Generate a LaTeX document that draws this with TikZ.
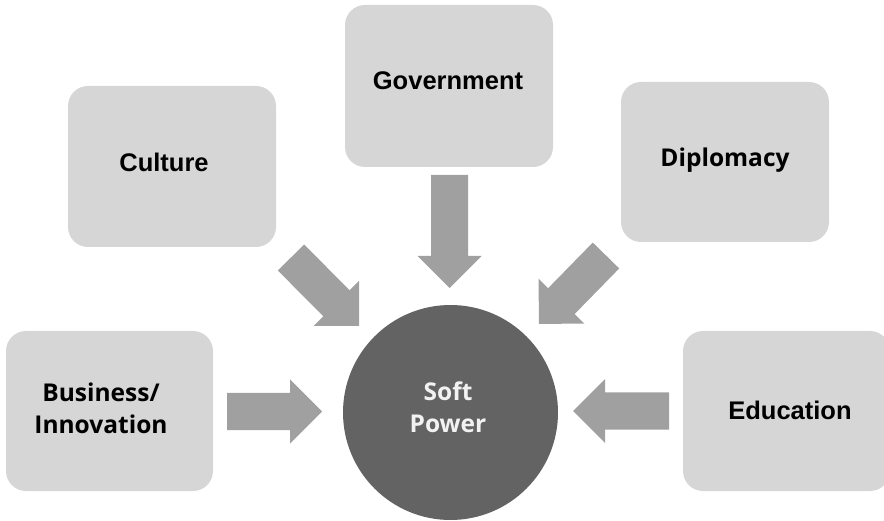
\documentclass[tikz,border=0pt]{standalone}
\usepackage{fontspec}
\setmainfont{Liberation Sans}
\newfontfamily\uifont{Open Sans}
\usetikzlibrary{calc}
\definecolor{boxgray}{HTML}{D6D6D6}
\definecolor{arrowgray}{HTML}{A0A0A0}
\definecolor{coregray}{HTML}{636363}
\definecolor{coretext}{HTML}{F2F2F2}
\newcommand\blockarrow[2]{%
  \coordinate (hb) at ($(#2)!32pt!(#1)$);
  \fill[arrowgray] ($(#1)!18.5pt!90:(#2)$) -- ($(hb)!18.5pt!90:(#2)$) -- ($(hb)!32pt!90:(#2)$) -- (#2)
    -- ($(hb)!32pt!-90:(#2)$) -- ($(hb)!18.5pt!-90:(#2)$) -- ($(#1)!18.5pt!-90:(#2)$) -- cycle;}
\begin{document}
\begin{tikzpicture}[x=1pt,y=-1pt,
  srcbox/.style={rectangle, rounded corners=20pt, fill=boxgray, draw=none,
    minimum width=208pt, minimum height=161pt, inner sep=0pt},
  lblA/.style={font=\fontsize{25.5}{30}\selectfont\bfseries, text=black, inner sep=0pt, anchor=base},
  lblB/.style={font=\uifont\fontsize{24.5}{32}\selectfont\bfseries, text=black, inner sep=0pt, anchor=base, align=center},
  coretxt/.style={font=\uifont\fontsize{24.5}{31.7}\selectfont\bfseries, text=coretext, inner sep=0pt, anchor=base, align=center}]
\useasboundingbox (0,0) rectangle (884,521);
% source boxes
\node[srcbox, minimum height=162pt] (gov) at (449,86) {};
\node[srcbox] (cul) at (172,166.5) {};
\node[srcbox, minimum height=160pt] (dip) at (725,162) {};
\node[srcbox, minimum width=207pt, minimum height=160pt] (bus) at (109.5,411) {};
\node[srcbox, minimum width=207pt, minimum height=160pt] (edu) at (786.5,411) {};
% labels
\node[lblA] (govL) at (448,90) {Government};
\node[lblA] (culL) at (164,171.7) {Culture};
\node[lblB] (dipL) at (725,167) {Diplomacy};
\node[lblB] (busL) at (101,433) {Business/\\Innovation};
\node[lblA] (eduL) at (790,419) {Education};
% core
\node[circle, fill=coregray, minimum size=215pt, inner sep=0pt] (core) at (450.5,412.5) {};
\node[coretxt] (coreL) at (448,432.7) {Soft\\Power};
% arrows
\coordinate (govT) at (449.5,175); \coordinate (govH) at (449.5,288);
\coordinate (culT) at (291,257.5); \coordinate (culH) at (359,326);
\coordinate (dipT) at (606,255.5); \coordinate (dipH) at (539,324);
\coordinate (busT) at (227,411.5); \coordinate (busH) at (322,411.5);
\coordinate (eduT) at (669,411);   \coordinate (eduH) at (573,411);
\blockarrow{govT}{govH}
\blockarrow{culT}{culH}
\blockarrow{dipT}{dipH}
\blockarrow{busT}{busH}
\blockarrow{eduT}{eduH}
\end{tikzpicture}
\end{document}
